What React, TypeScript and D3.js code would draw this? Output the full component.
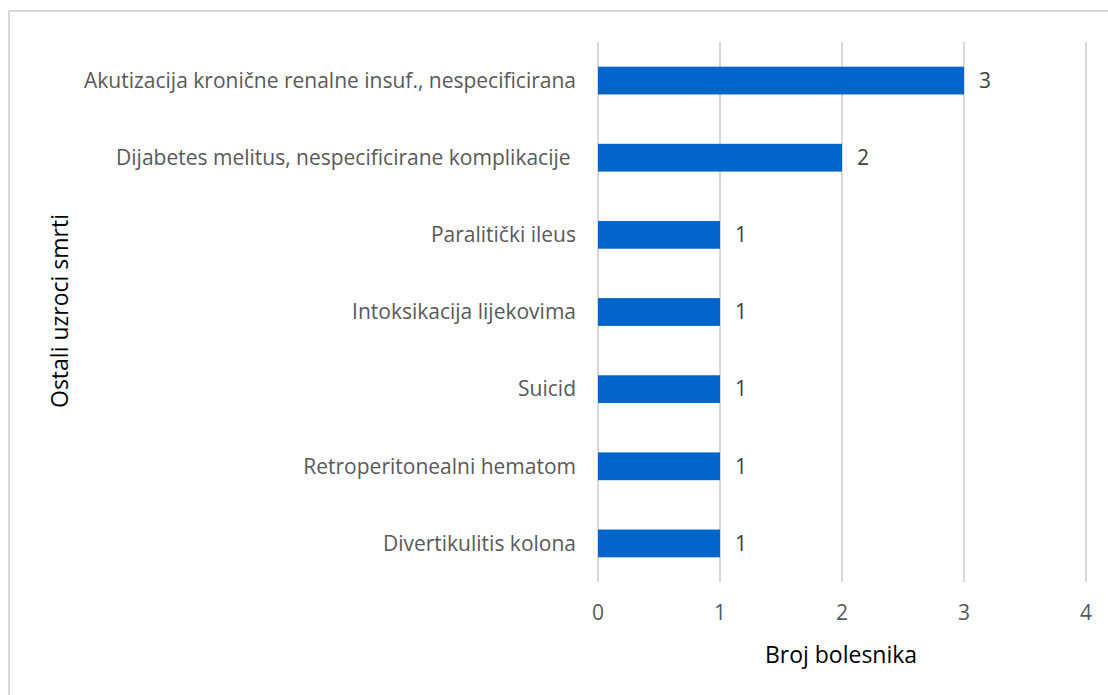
import React from 'react';
import * as d3 from 'd3';

const categories = [
  'Akutizacija kronične renalne insuf., nespecificirana',
  'Dijabetes melitus, nespecificirane komplikacije ',
  'Paralitički ileus',
  'Intoksikacija lijekovima',
  'Suicid',
  'Retroperitonealni hematom',
  'Divertikulitis kolona',
];
const values = [3, 2, 1, 1, 1, 1, 1];
const xTicks = [0, 1, 2, 3, 4];

const W = 1108;
const H = 695;
const FONT = '"Open Sans", "Noto Sans", sans-serif';

const App: React.FC = () => {
  const plot = { left: 598, right: 1086, top: 42, bottom: 582 };

  const x = d3.scaleLinear().domain([0, 4]).range([plot.left, plot.right]);
  const y = d3.scaleBand<string>()
    .domain(categories)
    .range([plot.top, plot.bottom])
    .paddingInner(0.64)
    .paddingOuter(0.32);

  return (
    <div style={{ position: 'fixed', left: 0, top: 0, width: W, height: H, background: '#fff' }}>
      <svg width={W} height={H} style={{ display: 'block', fontFamily: FONT }}>
        {/* outer chart border */}
        <rect x={9} y={11} width={W + 10} height={H + 10} fill="#fff" stroke="#d9d9d9" strokeWidth={2} />

        {/* grid */}
        {xTicks.map(t => (
          <line key={t} x1={x(t)} x2={x(t)} y1={plot.top} y2={plot.bottom} stroke="#d9d9d9" strokeWidth={2} />
        ))}

        {/* bars */}
        {categories.map((c, i) => (
          <rect key={c} x={x(0)} y={y(c)} width={x(values[i]) - x(0)} height={y.bandwidth()} fill="#0066cc" />
        ))}

        {/* value labels */}
        {categories.map((c, i) => (
          <text key={c} x={x(values[i]) + 15} y={(y(c) || 0) + y.bandwidth() / 2} dy="0.35em"
            fontSize={21} fill="#404040">{values[i]}</text>
        ))}

        {/* category labels */}
        {categories.map(c => (
          <text key={c} x={plot.left - 22} y={(y(c) || 0) + y.bandwidth() / 2} dy="0.35em"
            textAnchor="end" fontSize={21} fill="#595959" style={{ whiteSpace: 'pre' }}>{c}</text>
        ))}

        {/* x tick labels */}
        {xTicks.map(t => (
          <text key={t} x={x(t)} y={613} dy="0.35em" textAnchor="middle" fontSize={21} fill="#595959">{t}</text>
        ))}

        {/* axis titles */}
        <text x={841} y={655} dy="0.35em" textAnchor="middle" fontSize={23} fill="#000">Broj bolesnika</text>
        <text transform={`translate(60, 311) rotate(-90)`} dy="0.35em" textAnchor="middle" fontSize={23} fill="#000">
          Ostali uzroci smrti
        </text>
      </svg>
    </div>
  );
};

export default App;
